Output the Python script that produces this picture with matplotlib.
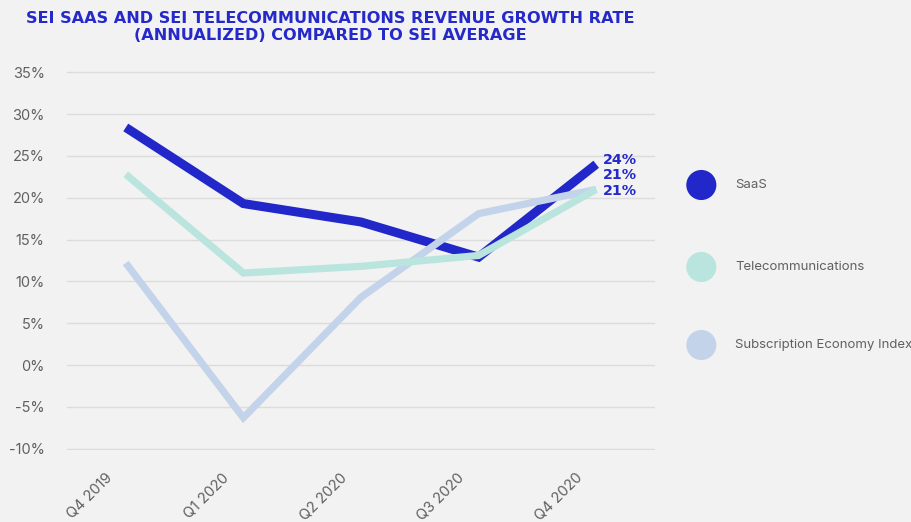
import matplotlib.pyplot as plt
from matplotlib.ticker import FuncFormatter
from matplotlib.transforms import ScaledTranslation

# Quarterly revenue growth rates (annualized, %)
quarters = ["Q4 2019", "Q1 2020", "Q2 2020", "Q3 2020", "Q4 2020"]
saas = [28.4, 19.3, 17.1, 12.9, 24]
telecom = [22.8, 11.0, 11.8, 13.1, 21]
sei_index = [12.2, -6.3, 8.1, 18.1, 21]

series_names = ["SaaS", "Telecommunications", "Subscription Economy Index"]
series_colors = ["#2127C8", "#B9E5DE", "#C3D4EA"]

bg = "#F2F2F2"
title_color = "#2529C9"
text_gray = "#606060"

fig = plt.figure(figsize=(9.11, 5.22), dpi=100, facecolor=bg)
ax = fig.add_axes([0.0735, 0.138, 0.6455, 0.726], facecolor=bg)

x = range(len(quarters))
# draw order: SaaS underneath, index above it, telecom on top
ax.plot(x, saas, color=series_colors[0], lw=6.5, solid_capstyle="butt",
        solid_joinstyle="miter", zorder=3)
ax.plot(x, sei_index, color=series_colors[2], lw=5.2, solid_capstyle="butt",
        solid_joinstyle="miter", zorder=4)
ax.plot(x, telecom, color=series_colors[1], lw=5.2, solid_capstyle="butt",
        solid_joinstyle="miter", zorder=5)

# end-of-line value labels, stacked under the SaaS end point
last = len(quarters) - 1
for i, vals in enumerate([saas, sei_index, telecom]):
    ax.annotate(f"{vals[last]:.0f}%", xy=(last, saas[last]),
                xytext=(5, 3 - 11 * i), textcoords="offset points",
                color=title_color, fontsize=10.3, fontweight="bold",
                family="DejaVu Sans", va="center", ha="left",
                annotation_clip=False)

ax.set_xlim(-0.5, 4.5)
ax.set_ylim(-10.15, 35.15)
ax.set_yticks(range(-10, 36, 5))
ax.yaxis.set_major_formatter(FuncFormatter(lambda v, p: f"{v:.0f}%"))
ax.set_xticks(list(x))
ax.set_xticklabels([])

# rotated quarter labels, nudged left of each tick
label_tf = ax.get_xaxis_transform() + ScaledTranslation(-21 / 100, -21 / 100, fig.dpi_scale_trans)
for xi, q in zip(x, quarters):
    ax.text(xi, 0, q, transform=label_tf, rotation=45, ha="right", va="top",
            rotation_mode="anchor", fontsize=10.5, family="Inter", color=text_gray)

ax.grid(axis="y", color="#DCDCDC", lw=1.0)
ax.set_axisbelow(True)
for s in ax.spines.values():
    s.set_visible(False)
ax.tick_params(axis="both", length=0, colors=text_gray, labelsize=10.5)
ax.tick_params(axis="y", pad=16)
for lbl in ax.get_yticklabels():
    lbl.set_family("Inter")
    lbl.set_color(text_gray)

# legend drawn as large dots with labels
lax = fig.add_axes([0.72, 0.0, 0.28, 1.0], facecolor="none")
lax.set_xlim(0, 1)
lax.set_ylim(0, 1)
lax.axis("off")
legend_y = [1 - 185 / 522, 1 - 267 / 522, 1 - 345 / 522]
for name, color, yy in zip(series_names, series_colors, legend_y):
    lax.scatter([0.178], [yy], s=470, color=color, edgecolors="none")
    lax.text(0.31, yy, name, color=text_gray, fontsize=9.5, family="Inter",
             va="center", ha="left")

fig.text(0.363, 0.978, "SEI SAAS AND SEI TELECOMMUNICATIONS REVENUE GROWTH RATE\n"
         "(ANNUALIZED) COMPARED TO SEI AVERAGE", color=title_color,
         fontsize=11.6, fontweight="bold", family="DejaVu Sans",
         ha="center", va="top", linespacing=1.15)

fig.savefig("out.png", dpi=100, facecolor=bg)
